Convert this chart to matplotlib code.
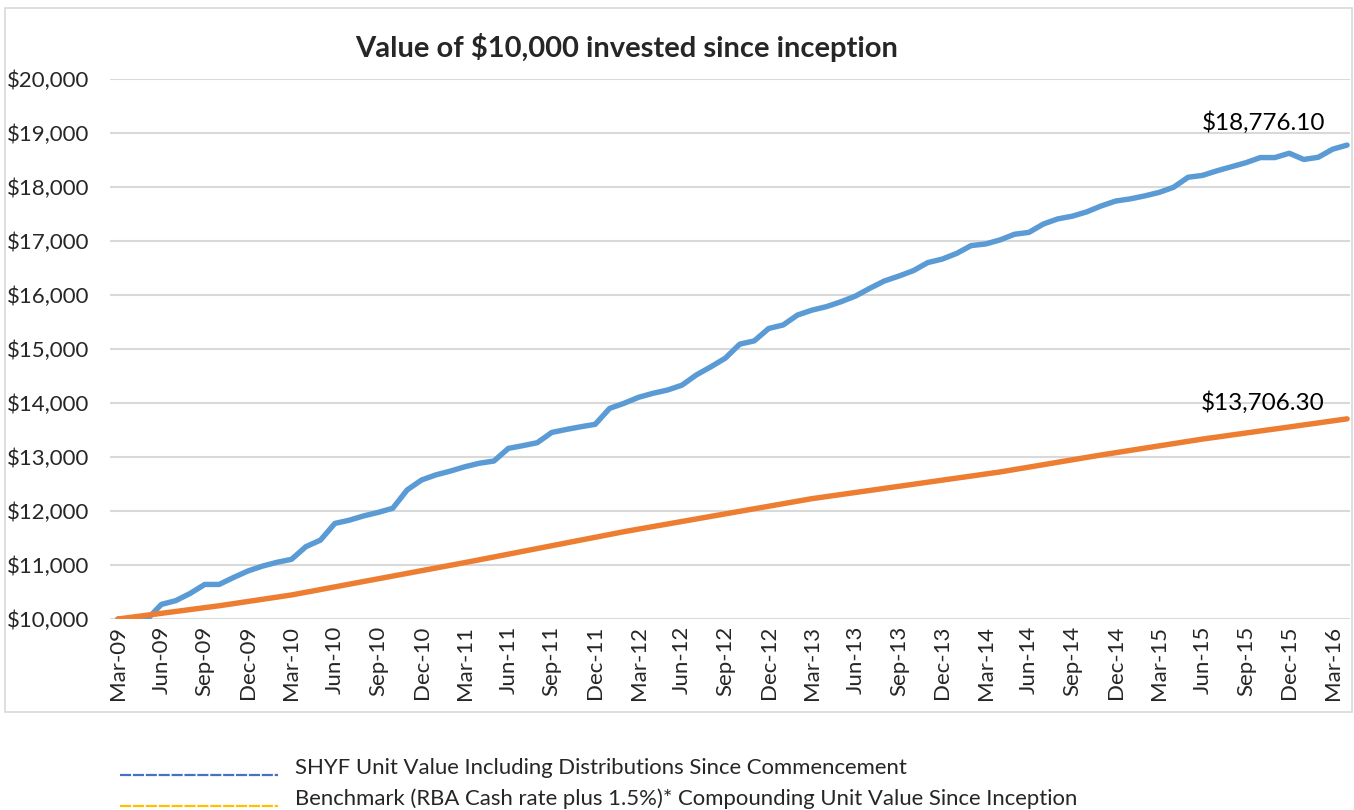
#!/usr/bin/env python3
"""Value of $10,000 invested since inception: SHYF vs benchmark (Excel-style line chart)."""
import numpy as np
import matplotlib; matplotlib.use("Agg")
import matplotlib.pyplot as plt
from matplotlib.patches import Rectangle
from matplotlib.lines import Line2D

plt.rcParams['font.family'] = ['Lato', 'DejaVu Sans']

# monthly values, Mar-09 .. Apr-16
shyf = [10000, 9995, 9990, 10270, 10340, 10475, 10640, 10640, 10770, 10890,
        10980, 11050, 11105, 11340, 11460, 11770, 11830, 11910, 11975, 12050,
        12390, 12575, 12670, 12740, 12820, 12885, 12925, 13160, 13210, 13265,
        13455, 13510, 13560, 13605, 13900, 13995, 14105, 14180, 14240, 14330,
        14520, 14670, 14830, 15090, 15150, 15380, 15445, 15630, 15720, 15785,
        15875, 15980, 16125, 16260, 16350, 16450, 16600, 16665, 16770, 16915,
        16945, 17020, 17125, 17160, 17315, 17410, 17460, 17540, 17650, 17740,
        17780, 17835, 17900, 17995, 18180, 18215, 18300, 18375, 18450, 18545,
        18545, 18625, 18510, 18550, 18700, 18776.10]
bench = [10000, 10035, 10070, 10105, 10140, 10175, 10210, 10245, 10285, 10325,
         10365, 10405, 10445, 10495, 10545, 10595, 10645, 10695, 10745, 10795,
         10845, 10895, 10945, 10995, 11045, 11097, 11149, 11201, 11253, 11305,
         11357, 11409, 11461, 11513, 11565, 11617, 11665, 11712, 11759, 11806,
         11853, 11900, 11947, 11994, 12041, 12088, 12135, 12182, 12229, 12267,
         12305, 12343, 12381, 12419, 12457, 12495, 12533, 12571, 12609, 12647,
         12685, 12723, 12768, 12813, 12858, 12903, 12948, 12993, 13038, 13080,
         13122, 13164, 13206, 13248, 13290, 13332, 13369, 13407, 13444, 13482,
         13519, 13556, 13594, 13631, 13669, 13706.30]
tick_labels = ["Mar-09", "Jun-09", "Sep-09", "Dec-09", "Mar-10", "Jun-10", "Sep-10", "Dec-10",
               "Mar-11", "Jun-11", "Sep-11", "Dec-11", "Mar-12", "Jun-12", "Sep-12", "Dec-12",
               "Mar-13", "Jun-13", "Sep-13", "Dec-13", "Mar-14", "Jun-14", "Sep-14", "Dec-14",
               "Mar-15", "Jun-15", "Sep-15", "Dec-15", "Mar-16"]
legend_labels = ["SHYF Unit Value Including Distributions Since Commencement",
                 "Benchmark (RBA Cash rate plus 1.5%)* Compounding Unit Value Since Inception"]

W, H = 1354, 810
BLUE, ORANGE = "#5B9BD5", "#ED7D31"
TXT = "#262626"

fig = plt.figure(figsize=(W / 100, H / 100), dpi=100)
ax = fig.add_axes([110 / W, 1 - 619 / H, 1240 / W, 540 / H])

x = np.arange(len(shyf))
ax.plot(x, shyf, color=BLUE, lw=3.9, solid_joinstyle="round", solid_capstyle="round", zorder=3)
ax.plot(x, bench, color=ORANGE, lw=3.9, solid_joinstyle="round", solid_capstyle="round", zorder=3)

ax.set_xlim(-0.55, len(shyf) - 1 + 0.2)
ax.set_ylim(10000, 20000)
ax.set_yticks(np.arange(10000, 20001, 1000))
ax.yaxis.set_major_formatter(plt.FuncFormatter(lambda v, p: f"${v:,.0f}"))
ax.set_xticks(np.arange(0, len(shyf), 3))
ax.set_xticklabels(tick_labels, rotation=90, ha="center", va="top")
ax.tick_params(length=0, labelsize=16, colors=TXT)
ax.tick_params(axis="y", pad=15)
ax.tick_params(axis="x", pad=5)
ax.grid(axis="y", color="#D9D9D9", lw=1.5, zorder=0)
for s in ax.spines.values():
    s.set_visible(False)
ax.set_axisbelow(True)

# end-point labels
ax.annotate(f"${shyf[-1]:,.2f}", xy=(x[-1], shyf[-1]), xytext=(-60, 16),
            textcoords="offset points", ha="center", va="center", fontsize=17.5, color="black")
ax.annotate(f"${bench[-1]:,.2f}", xy=(x[-1], bench[-1]), xytext=(-61, 11.5),
            textcoords="offset points", ha="center", va="center", fontsize=17.5, color="black")

fig.text(627 / W, 1 - 48 / H, "Value of $10,000 invested since inception",
         ha="center", va="center", fontsize=21, fontweight="bold", color=TXT)

# chart border
fig.patches.append(Rectangle((5 / W, 1 - 712 / H), 1347 / W, 704 / H, transform=fig.transFigure,
                             fill=False, ec="#D9D9D9", lw=1.2))

# legend below the chart
for ypx, col, lab in [(775, "#4472C4", legend_labels[0]), (806, "#FFC000", legend_labels[1])]:
    fig.lines.append(Line2D([120 / W, 278 / W], [1 - ypx / H, 1 - ypx / H], transform=fig.transFigure,
                            color=col, lw=1.6, linestyle=(0, (5, 0.8))))
    fig.text(295 / W, 1 - (ypx - 7) / H, lab, ha="left", va="center", fontsize=15.9, color=TXT)

fig.savefig("out.png", dpi=100)
